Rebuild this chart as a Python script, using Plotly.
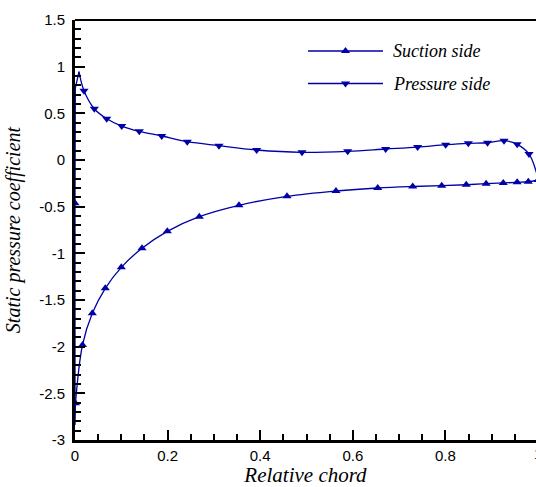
import plotly.graph_objects as go

# ---------------- data ----------------
# Suction side symbols (triangle up)
suction_x = [0.0, 0.001, 0.0162, 0.0374, 0.0654, 0.100, 0.1447, 0.1994, 0.2685, 0.3542,
             0.4579, 0.5637, 0.6538, 0.7294, 0.792, 0.845, 0.888, 0.925, 0.955, 0.979, 1.0]
suction_cp = [-0.464, -2.607, -1.982, -1.643, -1.375, -1.15, -0.946, -0.764, -0.607, -0.485,
              -0.389, -0.332, -0.300, -0.284, -0.275, -0.265, -0.254, -0.246, -0.239, -0.233, -0.215]

# Leading-edge path of the suction side (stagnation point -> suction peak), no symbols
suction_le_x = [0.0086, 0.0007, 0.0, 0.0, 0.0004, 0.001]
suction_le_cp = [0.946, 0.77, -0.464, -2.84, -2.80, -2.607]

# Pressure side symbols (triangle down)
pressure_x = [0.0194, 0.0417, 0.0685, 0.1009, 0.1389, 0.1873, 0.2425, 0.311, 0.3924, 0.4903,
              0.589, 0.671, 0.740, 0.8006, 0.8495, 0.891, 0.9266, 0.955, 0.9806]
pressure_cp = [0.742, 0.549, 0.442, 0.364, 0.307, 0.257, 0.196, 0.153, 0.107, 0.082,
               0.093, 0.118, 0.139, 0.164, 0.179, 0.185, 0.207, 0.168, 0.064]

# Stagnation peak and trailing-edge closure of the pressure side line (no symbols)
pressure_le_x = [0.0086]
pressure_le_cp = [0.946]
pressure_te_x = [0.995, 1.0]
pressure_te_cp = [-0.107, -0.215]

x_tickvals = [0, 0.2, 0.4, 0.6, 0.8]
x_ticktext = ["0", "0.2", "0.4", "0.6", "0.8"]
y_tickvals = [1.5, 1, 0.5, 0, -0.5, -1, -1.5, -2, -2.5, -3]
y_ticktext = ["1.5", "1", "0.5", "0", "-0.5", "-1", "-1.5", "-2", "-2.5", "-3"]

series_names = ["Suction side", "Pressure side"]

# ---------------- style ----------------
BLUE = "#0000a8"
LW = 1.3
MS = 8
SERIF = "Liberation Serif, Times New Roman, serif"
SANS = "Liberation Sans, Arial, sans-serif"

W, H = 536, 487
L, R, T, B = 75, 0, 20, 47
plot_w = W - L - R
XMAX = plot_w / 463.0  # x = 1 lies just beyond the right edge of the window

fig = go.Figure()

# suction side line (spline through symbols) + leading-edge path
fig.add_trace(go.Scatter(x=suction_le_x, y=suction_le_cp, mode="lines",
                         line=dict(color=BLUE, width=LW), showlegend=False, hoverinfo="skip"))
fig.add_trace(go.Scatter(x=suction_x[1:], y=suction_cp[1:], mode="lines",
                         line=dict(color=BLUE, width=LW, shape="spline", smoothing=1.0),
                         showlegend=False, hoverinfo="skip"))
fig.add_trace(go.Scatter(x=suction_x, y=suction_cp, mode="markers",
                         marker=dict(symbol="triangle-up", size=MS, color=BLUE),
                         showlegend=False))

# pressure side line
p_line_x = pressure_le_x + pressure_x + pressure_te_x
p_line_cp = pressure_le_cp + pressure_cp + pressure_te_cp
fig.add_trace(go.Scatter(x=p_line_x, y=p_line_cp, mode="lines",
                         line=dict(color=BLUE, width=LW, shape="spline", smoothing=1.0),
                         showlegend=False, hoverinfo="skip"))
fig.add_trace(go.Scatter(x=pressure_x, y=pressure_cp, mode="markers",
                         marker=dict(symbol="triangle-down", size=MS, color=BLUE),
                         showlegend=False))

# ---------------- custom legend on an overlay axis pair ----------------
leg_x0, leg_x1 = (308 - L) / plot_w, (383 - L) / plot_w
leg_ys = [1 - (51 - T) / 420.0, 1 - (83.5 - T) / 420.0]
leg_syms = ["triangle-up", "triangle-down"]
for name, ly, sym in zip(series_names, leg_ys, leg_syms):
    fig.add_trace(go.Scatter(x=[leg_x0, leg_x1], y=[ly, ly], mode="lines",
                             line=dict(color=BLUE, width=LW), xaxis="x2", yaxis="y2",
                             showlegend=False, hoverinfo="skip"))
    fig.add_trace(go.Scatter(x=[(leg_x0 + leg_x1) / 2], y=[ly], mode="markers",
                             marker=dict(symbol=sym, size=MS, color=BLUE), xaxis="x2", yaxis="y2",
                             showlegend=False, hoverinfo="skip"))

annotations = []
for name, ly in zip(series_names, leg_ys):
    annotations.append(dict(x=(391 - L) / plot_w, y=ly, xref="paper", yref="paper",
                            text="<i>" + name + "</i>", showarrow=False,
                            xanchor="left", yanchor="middle",
                            font=dict(family=SERIF, size=18, color="black")))
# partially visible "1" tick label at the clipped right edge
annotations.append(dict(x=1.0 / XMAX, y=0, xref="paper", yref="paper", text="1",
                        showarrow=False, xanchor="center", yanchor="top", yshift=-3,
                        font=dict(family=SANS, size=15, color="black")))

fig.update_layout(
    width=W, height=H,
    margin=dict(l=L, r=R, t=T, b=B, pad=0),
    paper_bgcolor="white", plot_bgcolor="white",
    showlegend=False,
    annotations=annotations,
    xaxis=dict(range=[0, XMAX], tickvals=x_tickvals, ticktext=x_ticktext,
               ticks="inside", ticklen=10, tickwidth=2, tickcolor="black",
               minor=dict(dtick=0.05, ticks="inside", ticklen=6, tickwidth=1.5, tickcolor="black"),
               showline=True, linewidth=3, linecolor="black", mirror=False,
               showgrid=False, zeroline=False,
               tickfont=dict(family=SANS, size=15, color="black"),
               title=dict(text="<i>Relative chord</i>", font=dict(family=SERIF, size=21, color="black"),
                          standoff=4)),
    yaxis=dict(range=[-3, 1.5], tickvals=y_tickvals, ticktext=y_ticktext,
               ticks="inside", ticklen=10, tickwidth=2, tickcolor="black",
               minor=dict(dtick=0.1, ticks="inside", ticklen=6, tickwidth=1.5, tickcolor="black"),
               showline=True, linewidth=3, linecolor="black", mirror=False,
               showgrid=False, zeroline=False, ticklabelstandoff=4,
               tickfont=dict(family=SANS, size=15, color="black"),
               title=dict(text="<i>Static pressure coefficient</i>",
                          font=dict(family=SERIF, size=20, color="black"), standoff=14)),
    xaxis2=dict(overlaying="x", range=[0, 1], visible=False, fixedrange=True),
    yaxis2=dict(overlaying="y", range=[0, 1], visible=False, fixedrange=True),
    shapes=[dict(type="line", xref="paper", yref="paper", x0=0, x1=1, y0=1, y1=1,
                 line=dict(color="black", width=2))],
)

fig.write_html("out.html")
